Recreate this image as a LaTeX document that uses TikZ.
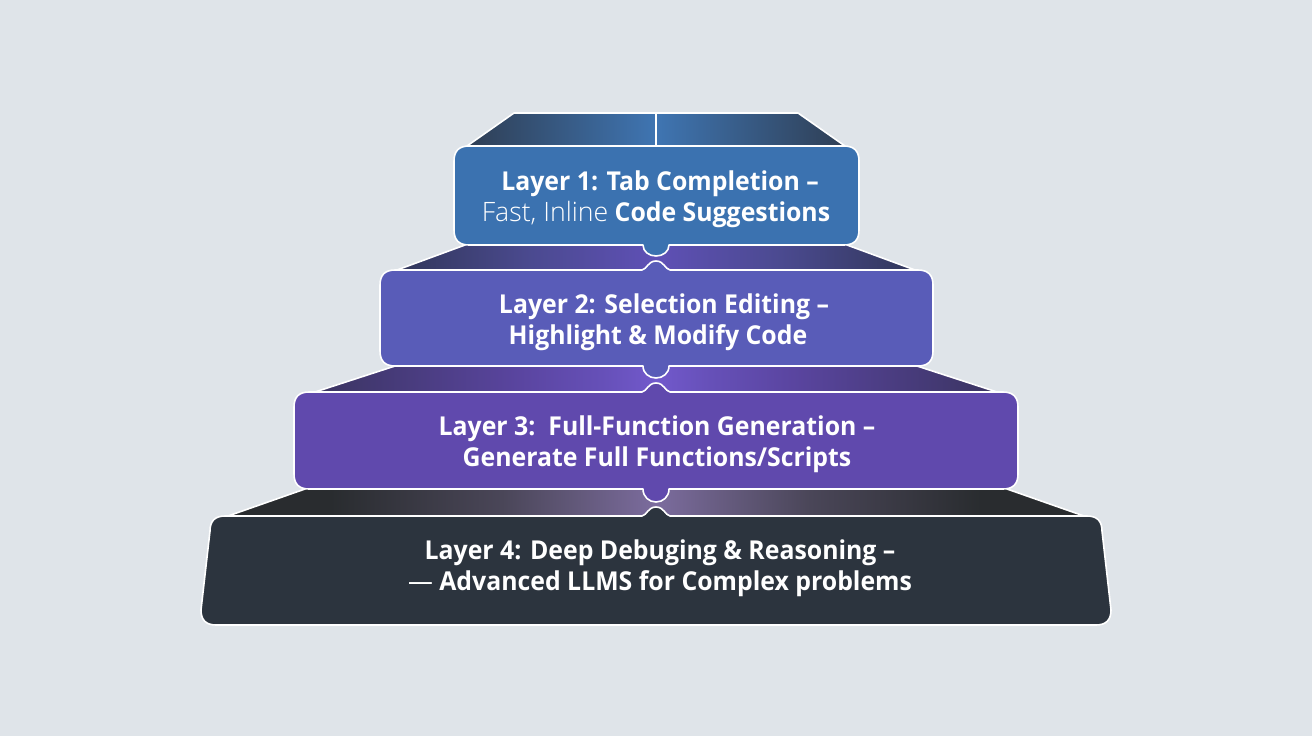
\documentclass[tikz,border=0pt]{standalone}
\usepackage{fontspec}
\setmainfont{Open Sans}[FakeStretch=0.955]
\newfontfamily\lightface{Open Sans Light}
\definecolor{bgc}{HTML}{DFE4E9}
\definecolor{layerA}{HTML}{3B72B0}
\definecolor{layerB}{HTML}{595CB8}
\definecolor{layerC}{HTML}{6049AD}
\definecolor{layerD}{HTML}{2C343E}
\definecolor{a1}{HTML}{2F3E54}\definecolor{a2}{HTML}{3F75B2}
\definecolor{b1}{HTML}{31375A}\definecolor{b2}{HTML}{4B4A90}\definecolor{b3}{HTML}{5F50B6}
\definecolor{c1}{HTML}{3A3460}\definecolor{c2}{HTML}{5A45A0}\definecolor{c3}{HTML}{6650B8}\definecolor{c4}{HTML}{7259CC}
\definecolor{d1}{HTML}{292C2F}\definecolor{d2}{HTML}{4A4658}\definecolor{d3}{HTML}{7C6C9E}
\pgfdeclarehorizontalshading{shadeA}{100bp}{color(0bp)=(a1);color(25bp)=(a1);color(50bp)=(a2);color(75bp)=(a1);color(100bp)=(a1)}
\pgfdeclarehorizontalshading{shadeB}{100bp}{color(0bp)=(b1);color(25bp)=(b1);color(38bp)=(b2);color(50bp)=(b3);color(62bp)=(b2);color(75bp)=(b1);color(100bp)=(b1)}
\pgfdeclarehorizontalshading{shadeC}{100bp}{color(0bp)=(c1);color(25bp)=(c1);color(40bp)=(c2);color(46bp)=(c3);color(50bp)=(c4);color(54bp)=(c3);color(60bp)=(c2);color(75bp)=(c1);color(100bp)=(c1)}
\pgfdeclarehorizontalshading{shadeD}{100bp}{color(0bp)=(d1);color(31bp)=(d1);color(41bp)=(d2);color(50bp)=(d3);color(59bp)=(d2);color(69bp)=(d1);color(100bp)=(d1)}
\tikzset{
  x=0.75pt,y=-0.75pt,
  layerbox/.style={fill=#1,draw=white,line width=1.2pt,line join=round},
  bandedge/.style={draw=white,line width=1.2pt,line cap=round,line join=round},
  layertext/.style={text=white,font=\fontsize{19.5}{23.3}\selectfont\bfseries,align=center,inner sep=0pt},
}
% #1 top-left x, #2 top-right x, #3 bottom-left x, #4 bottom-right x, #5 top y, #6 bottom y, #7 top knob height, #8 bottom knob depth
\newcommand{\layerpath}[8]{%
  (#1+15,#5) -- (642,#5)
  .. controls (647,#5-#7*0.1) and (648,#5-#7) .. (656,#5-#7)
  .. controls (664,#5-#7) and (665,#5-#7*0.1) .. (670,#5)
  -- (#2-15,#5) .. controls (#2-5,#5) and (#2,#5+5) .. (#2,#5+15)
  -- (#4,#6-15) .. controls (#4,#6-5) and (#4-5,#6) .. (#4-15,#6)
  -- (669,#6)
  .. controls (669,#6+#8*0.6) and (663,#6+#8) .. (656,#6+#8)
  .. controls (649,#6+#8) and (643,#6+#8*0.6) .. (643,#6)
  -- (#3+15,#6) .. controls (#3+5,#6) and (#3,#6-5) .. (#3,#6-15)
  -- (#1,#5+15) .. controls (#1,#5+5) and (#1+5,#5) .. (#1+15,#5) -- cycle
}
\begin{document}
\begin{tikzpicture}
\useasboundingbox (0,0) rectangle (1312,736);
\fill[bgc] (0,0) rectangle (1312,736);

% bands
\shade[shading=shadeA] (467,146) -- (514,113) -- (798,113) -- (845,146) -- cycle;
\draw[bandedge] (467,146) -- (514,113) -- (798,113) -- (845,146);
\draw[bandedge] (656,113) -- (656,146);

\shade[shading=shadeB] (465,245) -- (397,270) -- (915,270) -- (847,245) -- cycle;
\draw[bandedge] (465,245) -- (397,270);
\draw[bandedge] (847,245) -- (915,270);

\shade[shading=shadeC] (395,366) -- (315,392) -- (997,392) -- (917,366) -- cycle;
\draw[bandedge] (395,366) -- (315,392);
\draw[bandedge] (917,366) -- (997,392);

\shade[shading=shadeD] (305,489) -- (228,516) -- (1084,516) -- (1007,489) -- cycle;
\draw[bandedge] (305,489) -- (228,516);
\draw[bandedge] (1007,489) -- (1084,516);

% layer boxes
\path[layerbox=layerD] \layerpath{210}{1102}{201}{1111}{516}{625}{9}{0};
\path[layerbox=layerC] \layerpath{294}{1018}{294}{1018}{392}{489}{9}{13};
\path[layerbox=layerB] \layerpath{380}{933}{380}{933}{270}{366}{9}{12};
\path[layerbox=layerA] \layerpath{454}{859}{454}{859}{146}{245}{0}{11};

% texts
\node[layertext] (t1) at (656,199) {\hspace*{6pt}Layer 1: Tab Completion --\\{\lightface\mdseries\fontsize{20}{23.3}\selectfont Fast, Inline} Code Suggestions};
\node[layertext] (t2) at (658,322) {\hspace*{9pt}Layer 2: Selection Editing --\\Highlight \& Modify Code};
\node[layertext] (t3) at (657,444) {Layer 3:\, Full-Function Generation --\\Generate Full Functions/Scripts};
\node[layertext] (t4) at (660,568) {Layer 4: Deep Debuging \& Reasoning --\\{\mdseries ---} Advanced LLMS for Complex problems};
\end{tikzpicture}
\end{document}
